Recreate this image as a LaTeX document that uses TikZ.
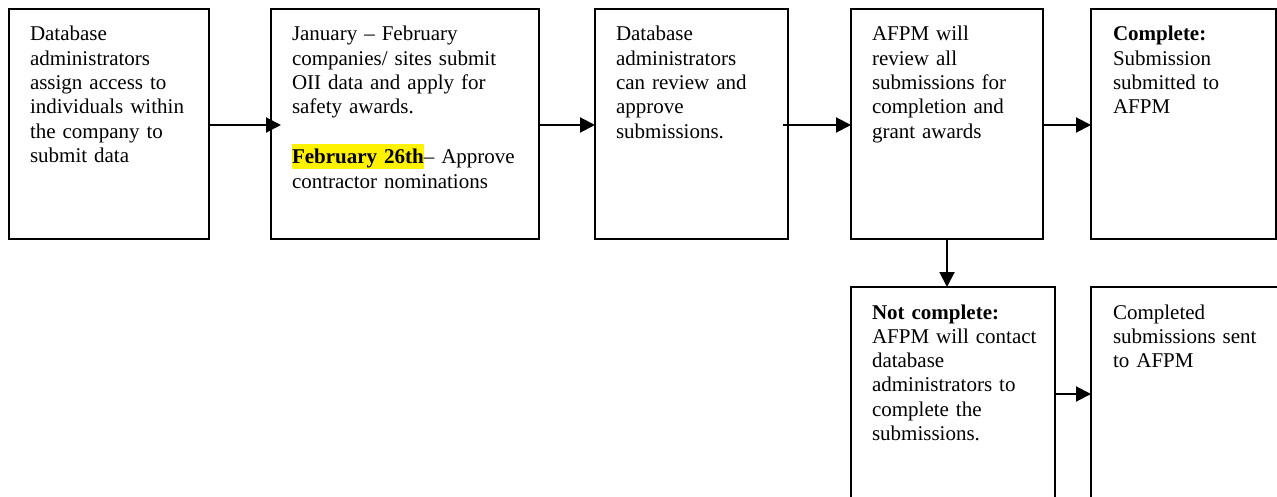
\documentclass[tikz,border=0pt]{standalone}
\usepackage{fontspec}
\setmainfont{Liberation Serif}
\usetikzlibrary{arrows.meta}
\newcommand\hlite[1]{{\setlength\fboxsep{0pt}\colorbox{yellow}{\rule[-5pt]{0pt}{25pt}#1}}}
\tikzset{
  box/.style={draw=black, line width=2pt, rectangle, inner sep=0pt, outer sep=0pt, anchor=north west},
  txt/.style={anchor=base west, inner sep=0pt, outer sep=0pt, text width=240pt, align=left,
    font=\fontsize{21}{24.3}\selectfont},
  arr/.style={line width=2pt, -{Triangle[length=15pt,width=15pt]}}
}
\begin{document}
\begin{tikzpicture}[x=1pt,y=-1pt]
\useasboundingbox (0,0) rectangle (1277,497);
\clip (0,0) rectangle (1277,497);
% boxes
\node[box, minimum width=200pt, minimum height=230pt] (b1) at (9,9) {};
\node[box, minimum width=268pt, minimum height=230pt] (b2) at (271,9) {};
\node[box, minimum width=193pt, minimum height=230pt] (b3) at (595,9) {};
\node[box, minimum width=192pt, minimum height=230pt] (b4) at (851,9) {};
\node[box, minimum width=185pt, minimum height=230pt] (b5) at (1091,9) {};
\node[box, minimum width=204pt, minimum height=240pt] (b6) at (851,287) {};
\node[box, minimum width=240pt, minimum height=240pt] (b7) at (1091,287) {};
% texts
\node[txt] (t1) at ([xshift=21pt,yshift=-32pt]b1.north west)
  {Database\\administrators\\assign access to\\individuals within\\the company to\\submit data};
\node[txt] (t2) at ([xshift=21pt,yshift=-32pt]b2.north west)
  {January – February\\companies/ sites submit\\OII data and apply for\\safety awards.\\[24.3pt]\hlite{\textbf{February 26th}}– Approve\\contractor nominations};
\node[txt] (t3) at ([xshift=21pt,yshift=-32pt]b3.north west)
  {Database\\administrators\\can review and\\approve\\submissions.};
\node[txt] (t4) at ([xshift=21pt,yshift=-32pt]b4.north west)
  {AFPM will\\review all\\submissions for\\completion and\\grant awards};
\node[txt] (t5) at ([xshift=22pt,yshift=-32pt]b5.north west)
  {\textbf{Complete:}\\Submission\\submitted to\\AFPM};
\node[txt] (t6) at ([xshift=21pt,yshift=-32pt]b6.north west)
  {\textbf{Not complete:}\\AFPM will contact\\database\\administrators to\\complete the\\submissions.};
\node[txt] (t7) at ([xshift=22pt,yshift=-32pt]b7.north west)
  {Completed\\submissions sent\\to AFPM};
% connectors
\draw[arr] ([yshift=-1pt]b1.east) -- ([xshift=10pt,yshift=-1pt]b2.west);
\draw[arr] ([yshift=-1pt]b2.east) -- ([yshift=-1pt]b3.west);
\draw[arr] ([xshift=-5pt,yshift=-1pt]b3.east) -- ([yshift=-1pt]b4.west);
\draw[arr] ([yshift=-1pt]b4.east) -- ([yshift=-1pt]b5.west);
\draw[arr] (b4.south) -- (b6.north -| b4.south);
\draw[arr] ([yshift=-107pt]b6.north east) -- ([yshift=-107pt]b7.north west);
\end{tikzpicture}
\end{document}
